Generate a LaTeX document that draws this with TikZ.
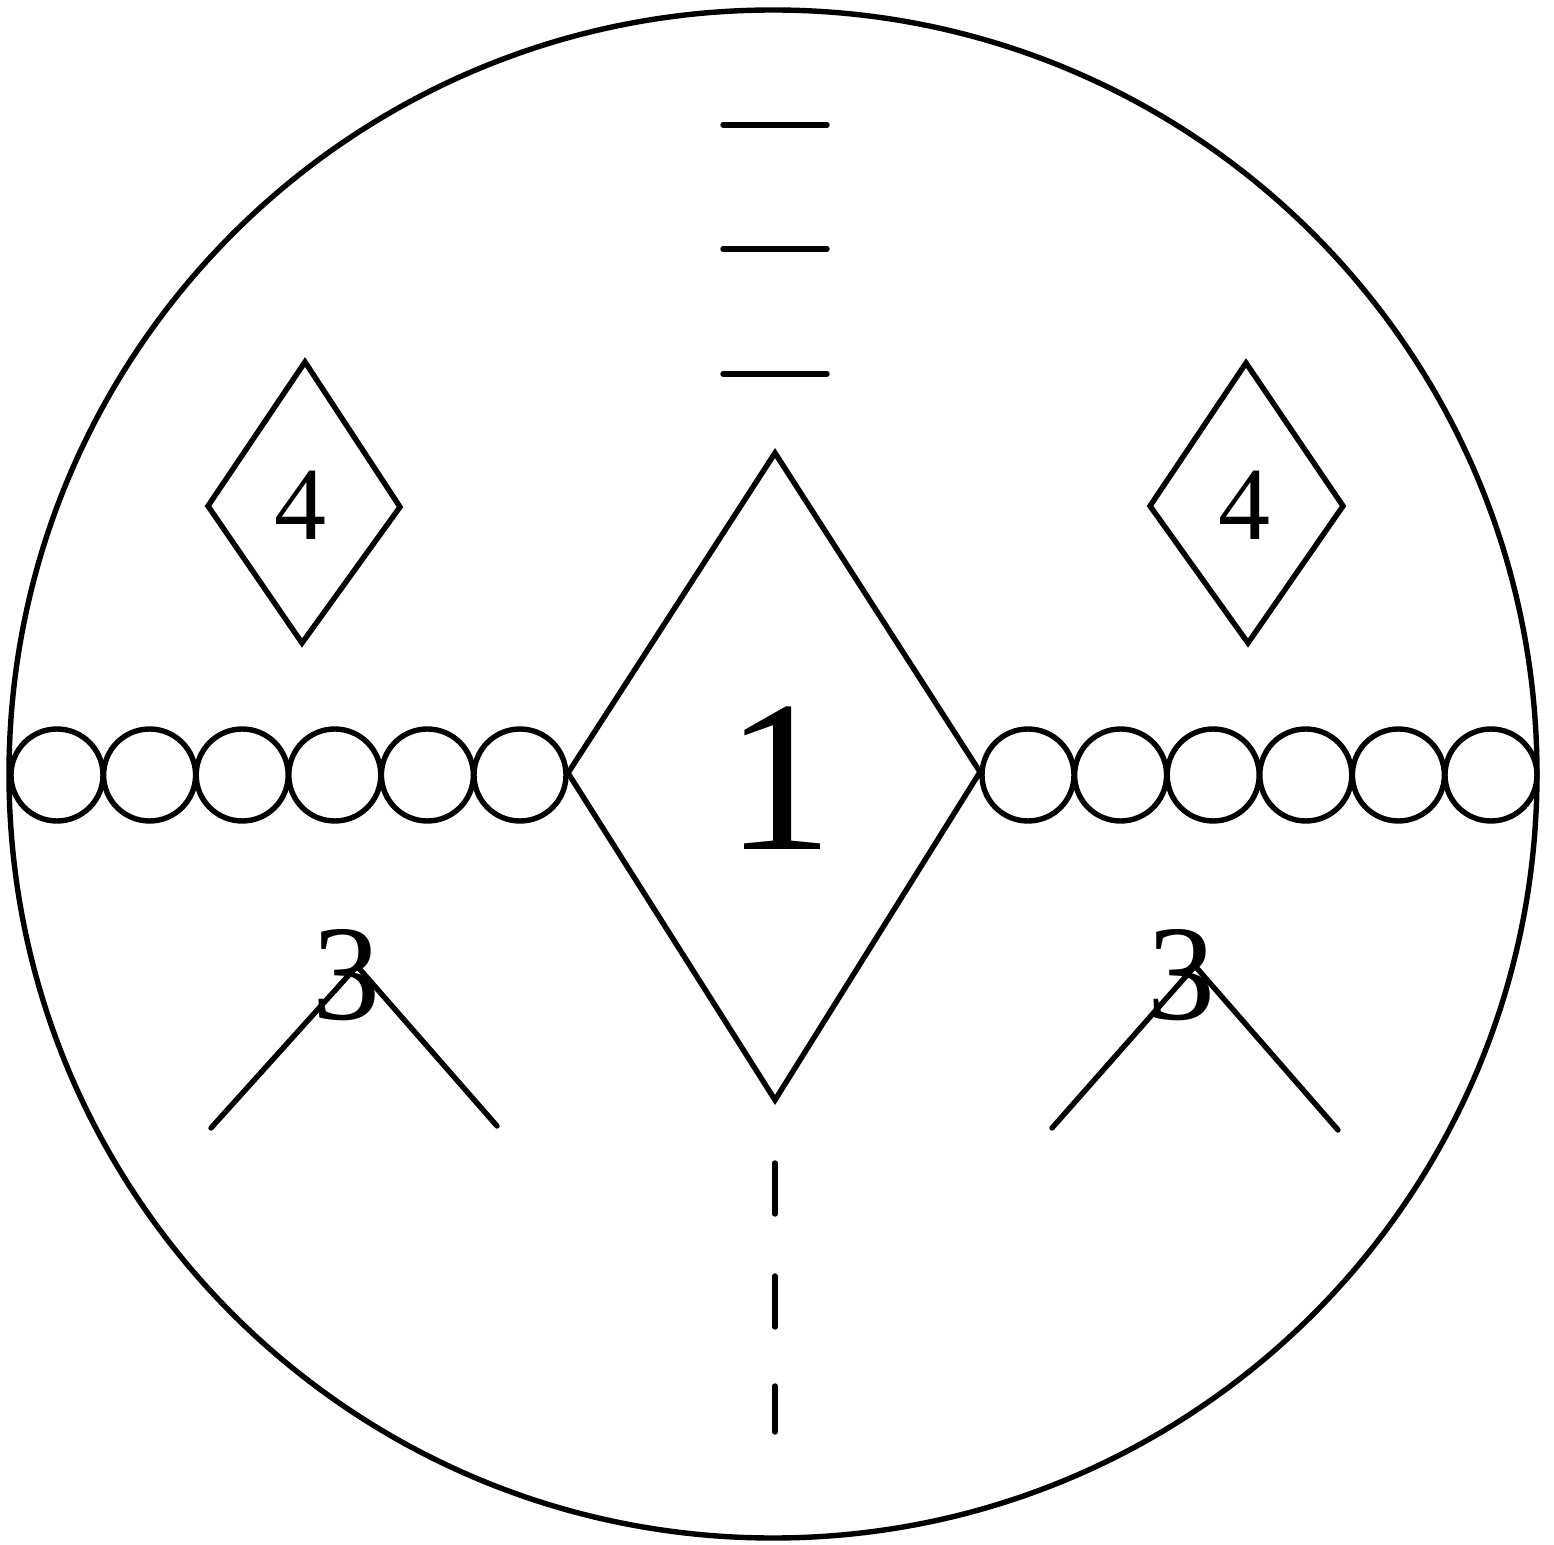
\documentclass[tikz,border=0pt]{standalone}
\usepackage{fontspec}
\setmainfont{Liberation Serif}
\usetikzlibrary{positioning}

\begin{document}
\begin{tikzpicture}[x=0.5pt, y=-0.5pt,
  line/.style={line width=2.7pt, line cap=round},
  bead/.style={circle, draw, line width=2.7pt, minimum size=46pt, inner sep=0pt},
  num/.style={inner sep=0pt}]
  \useasboundingbox (0,0) rectangle (1554,1545);
  % outer ring
  \draw[line] (773,774) circle[radius=764];
  % central diamond
  \draw[line] (775,453) -- (980,772) -- (775,1100) -- (568,773) -- cycle;
  \node[num, font=\fontsize{108}{108}\selectfont] (one) at (779,778) {1};
  % small diamonds
  \draw[line] (305,362) -- (400,507) -- (302,643) -- (208,506) -- cycle;
  \node[num, font=\fontsize{52}{52}\selectfont] (fourL) at (300,505) {4};
  \draw[line] (1246,363) -- (1343,506) -- (1248,643) -- (1150,506) -- cycle;
  \node[num, font=\fontsize{52}{52}\selectfont] (fourR) at (1244,505) {4};
  % beads
  \foreach \i in {0,...,5} {
    \node[bead] (bl\i) at (57+92.6*\i,775) {};
    \node[bead] (br\i) at (1028+92.6*\i,775) {};
  }
  % roofs
  \node[num, font=\fontsize{68}{68}\selectfont] (threeL) at (346,975) {3};
  \draw[line] (211,1128) -- (357,966) -- (497,1126);
  \node[num, font=\fontsize{68}{68}\selectfont] (threeR) at (1181,975) {3};
  \draw[line] (1052,1128) -- (1195,966) -- (1338,1130);
  % dashes
  \foreach \y in {125,249,374}
    \draw[line] (723,\y) -- (827,\y);
  \foreach \a/\b in {1163/1214,1276/1327,1386/1432}
    \draw[line] (775,\a) -- (775,\b);
\end{tikzpicture}
\end{document}
